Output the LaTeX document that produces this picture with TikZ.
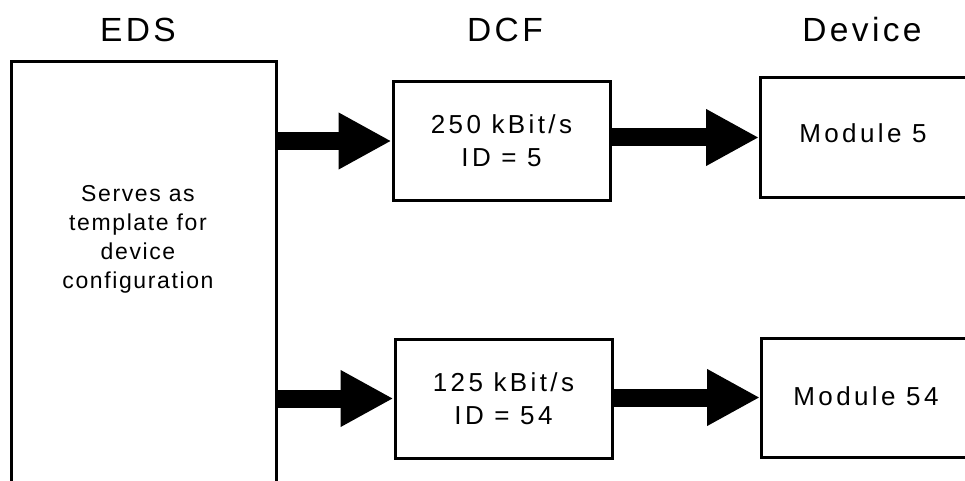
\documentclass[tikz,border=0pt]{standalone}
\usepackage{fontspec}
\setmainfont{Liberation Sans}
\usetikzlibrary{arrows.meta}

\tikzset{
  blockbox/.style={draw=black, line width=3pt, rectangle, inner sep=0pt},
  title/.style={font=\fontsize{33.5}{38}\selectfont\addfontfeature{LetterSpace=10}, inner sep=0pt},
  boxtext/.style={font=\fontsize{26}{33}\selectfont\addfontfeature{LetterSpace=13}, align=center, inner sep=0pt},
  edstext/.style={font=\fontsize{23}{29}\selectfont\addfontfeature{LetterSpace=7}, align=center, inner sep=0pt},
  flow/.style={line width=18pt, -{Triangle[length=53pt,width=53pt]}}
}

\begin{document}
\begin{tikzpicture}[x=1pt, y=-1pt]
  \useasboundingbox (0,0) rectangle (965,481);
  \clip (0,0) rectangle (965,481);

  % column titles
  \node[title] (tEDS) at (138,30) {EDS};
  \node[title] (tDCF) at (505,30) {DCF};
  \node[title] (tDev) at (862,30) {Device};

  % EDS block (runs past the lower edge)
  \node[blockbox, minimum width=265pt, minimum height=460pt, anchor=north west] (eds) at (10,60) {};
  \node[edstext] (edsl) at (138,239) {Serves as\\template for\\device\\configuration};

  % DCF blocks
  \node[blockbox, minimum width=217pt, minimum height=118pt] (dcf1) at (501.5,141) {};
  \node[boxtext] (dcf1t) at (501.5,141) {250 kBit/s\\ID = 5};
  \node[blockbox, minimum width=217pt, minimum height=119pt] (dcf2) at (503.5,398.5) {};
  \node[boxtext] (dcf2t) at (503.5,398.5) {125 kBit/s\\ID = 54};

  % device modules (run past the right edge)
  \node[blockbox, minimum width=212pt, minimum height=119pt, anchor=west] (dev1) at (759,137.5) {};
  \node[boxtext] (dev1t) at (863,133) {Module 5};
  \node[blockbox, minimum width=212pt, minimum height=119pt, anchor=west] (dev2) at (760,397.5) {};
  \node[boxtext] (dev2t) at (866,396) {Module 54};

  % data flow arrows
  \draw[flow] (eds.east |- dcf1.west) -- (dcf1.west);
  \draw[flow] (dcf1.east |- dev1.west) -- (dev1.west);
  \draw[flow] (eds.east |- dcf2.west) -- (dcf2.west);
  \draw[flow] (dcf2.east |- dev2.west) -- (dev2.west);
\end{tikzpicture}
\end{document}
